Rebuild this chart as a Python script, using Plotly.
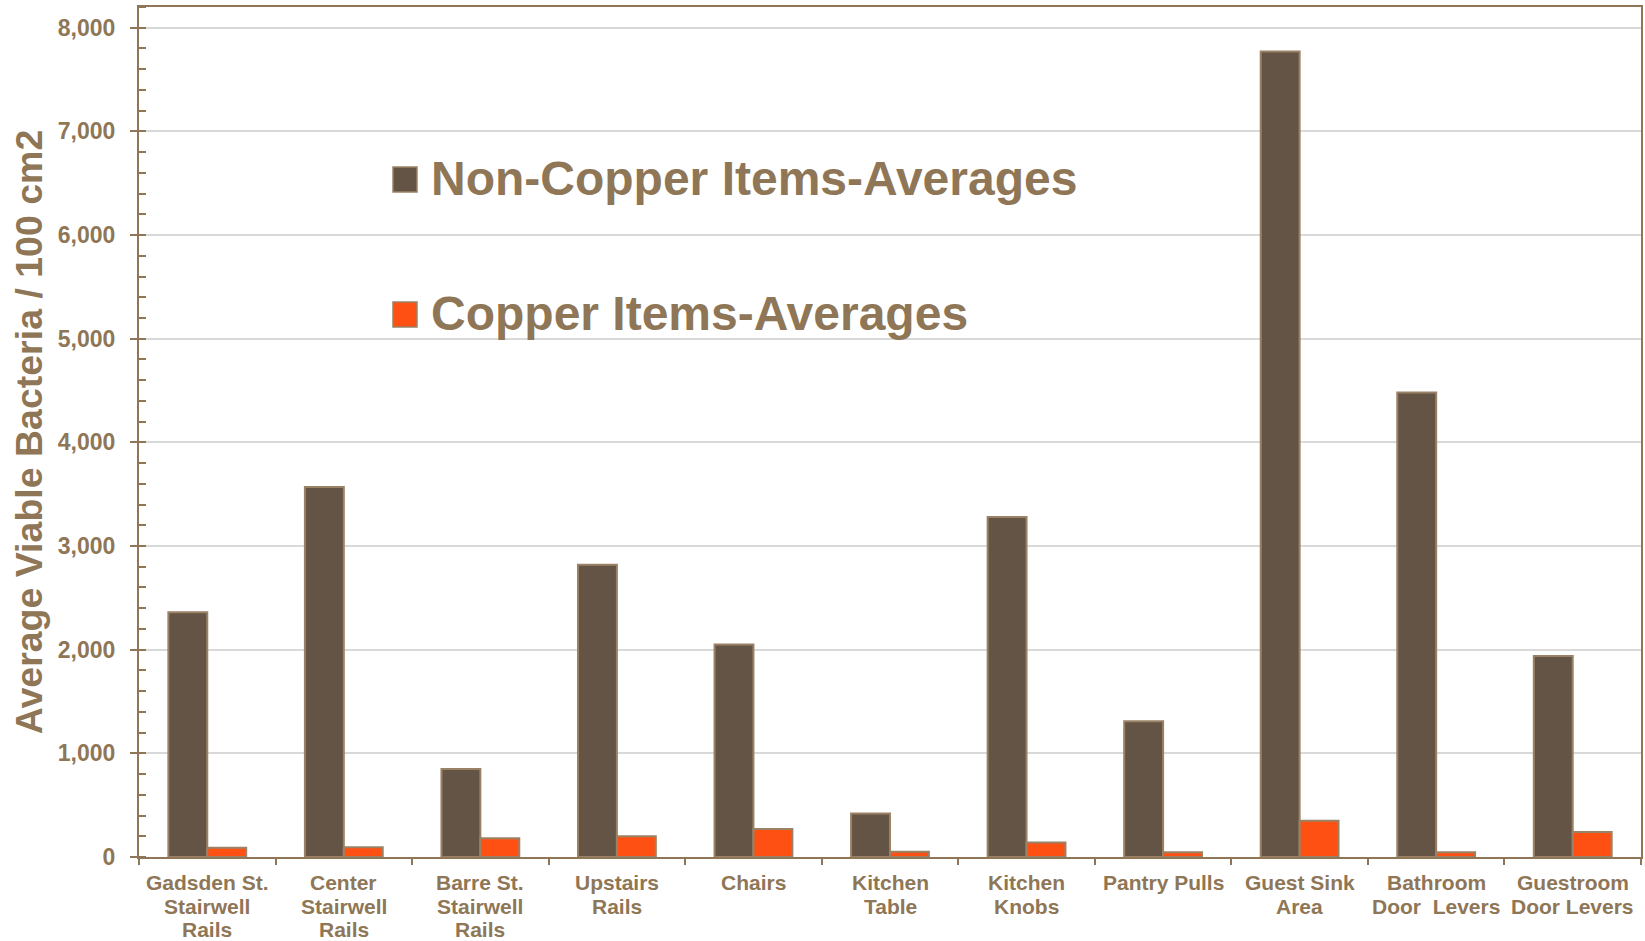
import plotly.graph_objects as go

categories = [
    "Gadsden St.<br>Stairwell<br>Rails",
    "Center<br>Stairwell<br>Rails",
    "Barre St.<br>Stairwell<br>Rails",
    "Upstairs<br>Rails",
    "Chairs",
    "Kitchen<br>Table",
    "Kitchen<br>Knobs",
    "Pantry Pulls",
    "Guest Sink<br>Area",
    "Bathroom<br>Door  Levers",
    "Guestroom<br>Door Levers",
]
non_copper = [2360, 3570, 850, 2820, 2050, 420, 3280, 1310, 7770, 4480, 1940]
copper = [90, 95, 180, 200, 270, 50, 140, 45, 350, 45, 240]

series_names = ["Non-Copper Items-Averages", "Copper Items-Averages"]
y_tickvals = [0, 1000, 2000, 3000, 4000, 5000, 6000, 7000, 8000]
y_ticktext = ["0", "1,000", "2,000", "3,000", "4,000", "5,000", "6,000", "7,000", "8,000"]

TAN = "#8E7656"
DARK = "#645446"
ORANGE = "#FF5014"
EDGE = "#9A8266"
FONT = "Liberation Sans, Arial, sans-serif"

W, H = 1645, 941
L, R, T, B = 139, 4, 7, 84
PW, PH = W - L - R, H - T - B


def px_x(px):
    return (px - L) / PW


def px_y(py):
    return (H - B - py) / PH


fig = go.Figure()
fig.add_trace(go.Bar(x=categories, y=non_copper, name=series_names[0],
                     marker=dict(color=DARK, line=dict(color=EDGE, width=2)),
                     showlegend=False))
fig.add_trace(go.Bar(x=categories, y=copper, name=series_names[1],
                     marker=dict(color=ORANGE, line=dict(color=EDGE, width=2)),
                     showlegend=False))

# legend drawn manually (large squares + large text)
legend_rows = [(DARK, series_names[0], 179.5), (ORANGE, series_names[1], 314.5)]
for color, name, cy in legend_rows:
    fig.add_shape(type="rect", xref="paper", yref="paper",
                  x0=px_x(393), x1=px_x(417), y0=px_y(cy - 12.5), y1=px_y(cy + 12.5),
                  fillcolor=color, line=dict(color=EDGE, width=1.5))
    fig.add_annotation(xref="paper", yref="paper", x=px_x(429), y=px_y(cy - 1),
                       xanchor="left", yanchor="middle", showarrow=False,
                       text=name, font=dict(family=FONT, size=48, color=TAN, weight="bold"))

# category labels, one text line each, with tight line spacing as in the original
line_mid_px = [882.5, 906.0, 929.5]
for cat in categories:
    for i, line in enumerate(cat.split("<br>")):
        fig.add_annotation(xref="x", yref="paper", x=cat, y=px_y(line_mid_px[i]),
                           xanchor="center", yanchor="middle", showarrow=False,
                           text=line, font=dict(family=FONT, size=21, color=TAN, weight="bold"))

fig.update_layout(
    width=W, height=H,
    margin=dict(l=L, r=R, t=T, b=B, autoexpand=False),
    paper_bgcolor="white", plot_bgcolor="white",
    barmode="group", bargap=0.43, bargroupgap=0,
    font=dict(family=FONT, color=TAN, weight="bold"),
)
fig.update_xaxes(
    type="category", showline=True, linecolor=TAN, linewidth=2, mirror=True,
    ticks="outside", tickson="boundaries", ticklen=6, tickcolor=TAN, tickwidth=2,
    showticklabels=False,
    showgrid=False, automargin=False,
)
fig.update_yaxes(
    range=[0, 8200], showline=True, linecolor=TAN, linewidth=2, mirror=True,
    tickvals=y_tickvals, ticktext=y_ticktext,
    ticks="outside", ticklen=7, tickcolor=TAN, tickwidth=2,
    minor=dict(dtick=200, ticks="inside", ticklen=7, tickcolor=TAN, tickwidth=2, showgrid=False),
    tickfont=dict(family=FONT, size=23, color=TAN, weight="bold"),
    ticklabelstandoff=10,
    showgrid=True, gridcolor="#D9D9D9", gridwidth=2,
    zeroline=False, automargin=False,
    title=dict(text="Average Viable Bacteria / 100 cm2", standoff=4,
               font=dict(family=FONT, size=37.5, color=TAN, weight="bold")),
)

fig.write_html("out.html")
